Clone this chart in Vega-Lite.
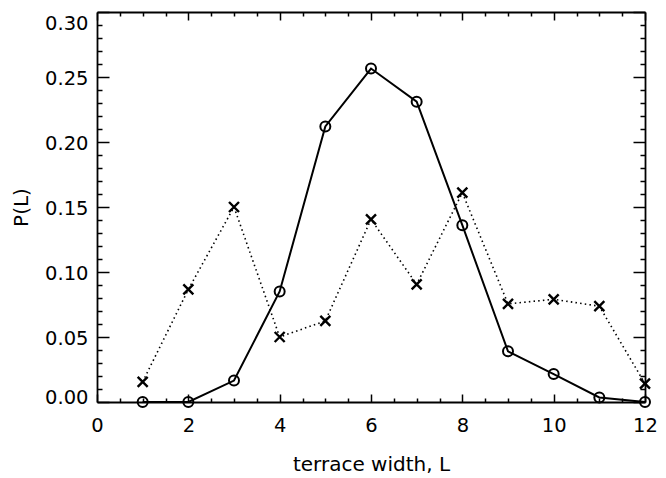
{
  "$schema": "https://vega.github.io/schema/vega-lite/v6.json",
  "width": 548,
  "height": 390,
  "autosize": {"type": "none"},
  "padding": {"left": 97, "top": 12, "right": 21, "bottom": 76},
  "background": "white",
  "config": {
    "view": {"stroke": null},
    "font": "DejaVu Sans",
    "axis": {
      "domainColor": "black",
      "domainWidth": 1.8,
      "tickColor": "black",
      "tickWidth": 1.5,
      "labelColor": "black",
      "labelFont": "DejaVu Sans",
      "labelFontSize": 19.5,
      "titleFont": "DejaVu Sans",
      "titleFontSize": 20,
      "titleFontWeight": "normal",
      "titleColor": "black",
      "grid": false,
      "labelOverlap": false,
      "labelFlush": false,
      "labelBound": false
    }
  },
  "datasets": {
    "ring": [
      {"L": 1, "P": 0.0},
      {"L": 2, "P": 0.0},
      {"L": 3, "P": 0.0165},
      {"L": 4, "P": 0.085},
      {"L": 5, "P": 0.212},
      {"L": 6, "P": 0.2565},
      {"L": 7, "P": 0.231},
      {"L": 8, "P": 0.136},
      {"L": 9, "P": 0.039},
      {"L": 10, "P": 0.0215},
      {"L": 11, "P": 0.0035},
      {"L": 12, "P": 0.0}
    ],
    "cross": [
      {"L": 1, "P": 0.0155},
      {"L": 2, "P": 0.0866},
      {"L": 3, "P": 0.150},
      {"L": 4, "P": 0.050},
      {"L": 5, "P": 0.0624},
      {"L": 6, "P": 0.1405},
      {"L": 7, "P": 0.0905},
      {"L": 8, "P": 0.161},
      {"L": 9, "P": 0.0755},
      {"L": 10, "P": 0.079},
      {"L": 11, "P": 0.0737},
      {"L": 12, "P": 0.0141}
    ]
  },
  "layer": [
    {
      "data": {"name": "ring"},
      "mark": {
        "type": "line",
        "color": "black",
        "strokeWidth": 2,
        "clip": false,
        "point": {"shape": "circle", "filled": false, "size": 100, "stroke": "black", "strokeWidth": 2}
      },
      "encoding": {
        "x": {
          "field": "L", "type": "quantitative",
          "scale": {"domain": [0, 12], "nice": false, "zero": false},
          "axis": {
            "orient": "bottom",
            "title": "terrace width, L",
            "titlePadding": 16,
            "values": [0,0.5,1,1.5,2,2.5,3,3.5,4,4.5,5,5.5,6,6.5,7,7.5,8,8.5,9,9.5,10,10.5,11,11.5,12],
            "tickSize": {"condition": {"test": "round(datum.value*2) % 4 == 0", "value": -8}, "value": -4},
            "labelExpr": "round(datum.value*2) % 4 == 0 ? format(datum.value, 'd') : ''",
            "labelPadding": 22
          }
        },
        "y": {
          "field": "P", "type": "quantitative",
          "scale": {"domain": [0, 0.3], "nice": false},
          "axis": {
            "orient": "left",
            "title": "P(L)",
            "titlePadding": 13,
            "values": [0,0.01,0.02,0.03,0.04,0.05,0.06,0.07,0.08,0.09,0.1,0.11,0.12,0.13,0.14,0.15,0.16,0.17,0.18,0.19,0.2,0.21,0.22,0.23,0.24,0.25,0.26,0.27,0.28,0.29,0.3],
            "tickSize": {"condition": {"test": "round(datum.value*100) % 5 == 0", "value": -12}, "value": -5},
            "labelExpr": "round(datum.value*100) % 5 == 0 ? format(datum.value, '.2f') : ''",
            "labelOffset": {"condition": [{"test": "datum.value > 0.295", "value": 11}, {"test": "datum.value < 0.005", "value": -5}], "value": 1.5},
            "labelPadding": 21
          }
        }
      }
    },
    {
      "data": {"name": "cross"},
      "mark": {
        "type": "line",
        "color": "black",
        "strokeWidth": 1.6,
        "strokeDash": [1.5, 3.2],
        "clip": false,
        "point": {"shape": "M-1,-1L1,1M-1,1L1,-1", "filled": false, "size": 100, "stroke": "black", "strokeWidth": 2.4}
      },
      "encoding": {
        "x": {
          "field": "L", "type": "quantitative",
          "axis": {
            "orient": "top",
            "title": null,
            "values": [0,0.5,1,1.5,2,2.5,3,3.5,4,4.5,5,5.5,6,6.5,7,7.5,8,8.5,9,9.5,10,10.5,11,11.5,12],
            "tickSize": {"condition": {"test": "round(datum.value*2) % 4 == 0", "value": -8}, "value": -4},
            "labels": false
          }
        },
        "y": {
          "field": "P", "type": "quantitative",
          "axis": {
            "orient": "right",
            "title": null,
            "values": [0,0.01,0.02,0.03,0.04,0.05,0.06,0.07,0.08,0.09,0.1,0.11,0.12,0.13,0.14,0.15,0.16,0.17,0.18,0.19,0.2,0.21,0.22,0.23,0.24,0.25,0.26,0.27,0.28,0.29,0.3],
            "tickSize": {"condition": {"test": "round(datum.value*100) % 5 == 0", "value": -12}, "value": -5},
            "labels": false
          }
        }
      }
    }
  ],
  "resolve": {"axis": {"x": "independent", "y": "independent"}}
}
